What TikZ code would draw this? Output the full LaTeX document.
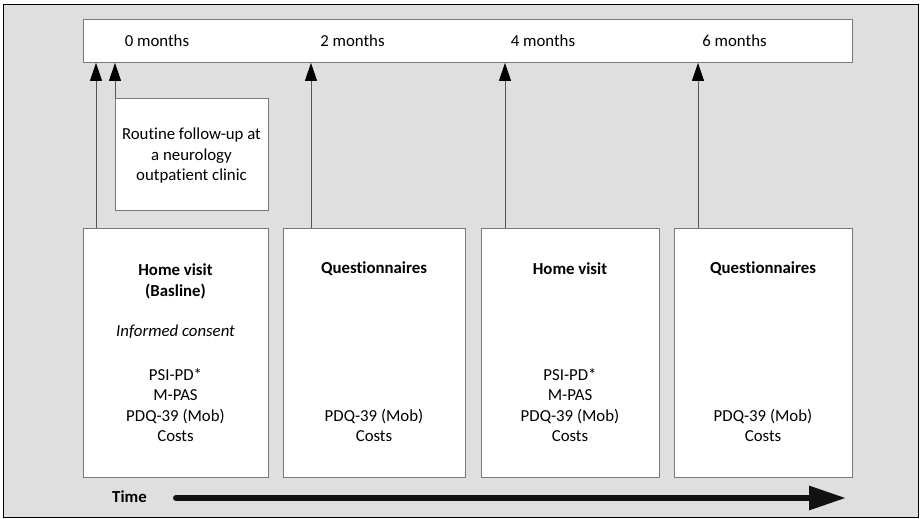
\documentclass[tikz,border=0pt]{standalone}
\usepackage{fontspec}
\setmainfont{Carlito}[Ligatures=CommonOff]
\usetikzlibrary{arrows.meta}
\definecolor{bg}{HTML}{DFDFDF}
\definecolor{edge}{HTML}{7A7A7A}
\definecolor{conn}{HTML}{555555}
\begin{document}
\begin{tikzpicture}[x=1pt,y=-1pt,
  every node/.style={font=\fontsize{16.8}{20.5}\selectfont, text=black},
  panel/.style={draw=edge, line width=0.9pt, fill=white, inner sep=0pt, anchor=north west},
  lbl/.style={inner sep=0pt, align=center},
  up/.style={draw=conn, line width=0.9pt, -{Triangle[length=18pt,width=12pt,color=black]}},
  timeline/.style={draw=black!93, line width=6pt, line cap=round, -{Triangle[length=37pt,width=23pt]}}]
\useasboundingbox (0,0) rectangle (921,519);
\draw[black, line width=1.5pt, fill=bg] (3.5,4.5) rectangle (918.5,517.5);

% top bar
\node[panel, minimum width=769pt, minimum height=43pt] (bar) at (83,19) {};
\node[lbl] (m0) at (157,41) {0 months};
\node[lbl] (m2) at (352.5,41) {2 months};
\node[lbl] (m4) at (543,41) {4 months};
\node[lbl] (m6) at (734.5,41) {6 months};

% routine box
\node[panel, minimum width=153pt, minimum height=112pt] (routine) at (115,98) {};
\node[lbl] (rt) at (191.5,156) {Routine follow-up at\\a neurology\\outpatient clinic};

% bottom boxes
\node[panel, minimum width=185pt, minimum height=249pt] (b1) at (83,228) {};
\node[panel, minimum width=182pt, minimum height=249pt] (b2) at (283,228) {};
\node[panel, minimum width=178pt, minimum height=249pt] (b3) at (481,228) {};
\node[panel, minimum width=178pt, minimum height=249pt] (b4) at (674,228) {};

% box 1 texts
\node[lbl, font=\fontsize{16.8}{20.5}\selectfont\bfseries] (b1h) at (175.5,281.5) {Home visit\\(Basline)};
\node[lbl] (b1i) at (175.5,332) {\itshape Informed consent};
\node[lbl] (b1m) at (175.5,405) {PSI-PD*\\M-PAS\\PDQ-39 (Mob)\\Costs};

% box 2 texts
\node[lbl, font=\fontsize{16.8}{20.5}\selectfont\bfseries] (b2h) at (374,269) {Questionnaires};
\node[lbl] (b2m) at (374,425.5) {PDQ-39 (Mob)\\Costs};

% box 3 texts
\node[lbl, font=\fontsize{16.8}{20.5}\selectfont\bfseries] (b3h) at (570,269) {Home visit};
\node[lbl] (b3m) at (570,405) {PSI-PD*\\M-PAS\\PDQ-39 (Mob)\\Costs};

% box 4 texts
\node[lbl, font=\fontsize{16.8}{20.5}\selectfont\bfseries] (b4h) at (763,269) {Questionnaires};
\node[lbl] (b4m) at (763,425.5) {PDQ-39 (Mob)\\Costs};

% arrows to the time bar
\draw[up] ([xshift=13pt]b1.north west) -- ([xshift=13pt]b1.north west |- bar.south);
\draw[up] (routine.north west) -- (routine.north west |- bar.south);
\draw[up] ([xshift=28pt]b2.north west) -- ([xshift=28pt]b2.north west |- bar.south);
\draw[up] ([xshift=24pt]b3.north west) -- ([xshift=24pt]b3.north west |- bar.south);
\draw[up] ([xshift=24pt]b4.north west) -- ([xshift=24pt]b4.north west |- bar.south);

% time axis
\node[lbl, font=\fontsize{16.8}{20.5}\selectfont\bfseries] (time) at (129.5,497) {Time};
\coordinate (ts) at (176,498);
\coordinate (te) at (846,498);
\draw[timeline] (ts) -- (te);
\end{tikzpicture}
\end{document}
